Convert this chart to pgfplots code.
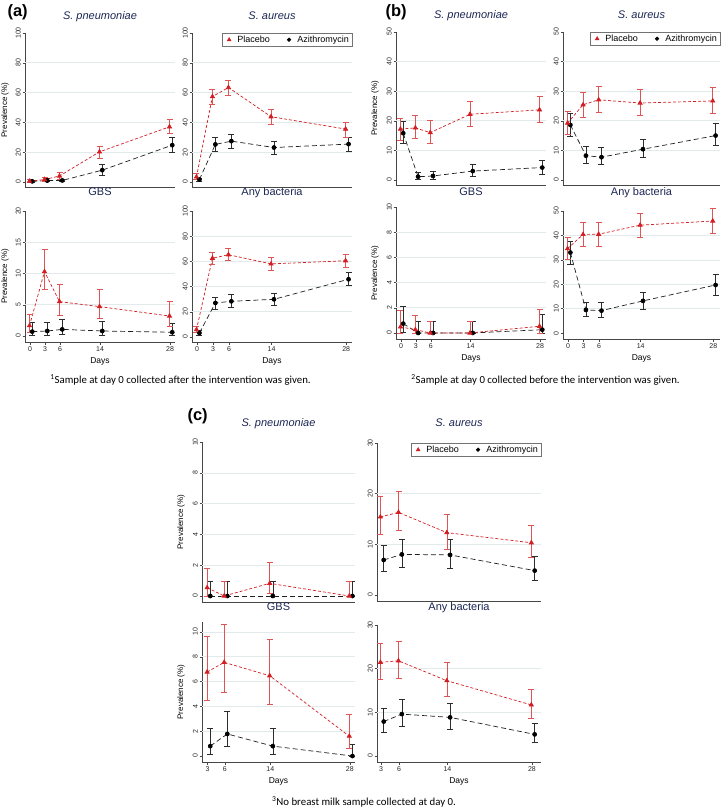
\documentclass[border=0pt]{standalone}
\usepackage{pgfplots}
\pgfplotsset{compat=1.18}
\usepackage{pgfplotstable}
\usepackage{fontspec}
\setmainfont{Liberation Sans}
\newfontfamily\notefont{Carlito}

\definecolor{pred}{RGB}{210,30,35}
\definecolor{predbar}{RGB}{222,85,85}
\definecolor{ablk}{RGB}{30,30,30}
\definecolor{ablkbar}{RGB}{45,45,45}
\definecolor{ttl}{RGB}{28,38,84}
\definecolor{axc}{RGB}{70,70,70}
\definecolor{gridc}{RGB}{226,234,236}

\newcommand\tickfont{\fontsize{7}{8}\selectfont}

% columns: day, placebo (est, lo, hi), azithromycin (est, lo, hi)
\pgfplotstableread{
d pv plo phi av alo ahi
0 0.5 0.0 1.5 0.4 0.0 1.1
3 1.6 0.4 2.8 0.9 0.2 2.3
6 4.0 1.8 6.7 1.0 0.3 2.1
14 20.2 15.7 24.0 7.9 4.5 11.7
28 37.0 32.6 42.0 24.7 19.8 29.7
}\aSP
\pgfplotstableread{
d pv plo phi av alo ahi
0 3.4 1.6 5.6 1.6 0.7 2.7
3 57.3 52.4 62.2 25.2 20.9 29.7
6 63.4 58.4 68.1 27.4 22.5 32.1
14 43.8 38.9 49.0 23.1 18.7 27.6
28 35.5 30.3 40.2 25.4 20.9 30.3
}\aSA
\pgfplotstableread{
d pv plo phi av alo ahi
0 1.65 0.6 3.46 0.7 0.16 2.2
3 10.3 7.5 13.8 0.8 0.16 2.2
6 5.5 3.35 8.2 1.06 0.27 2.66
14 4.7 2.8 7.4 0.8 0.16 2.3
28 3.2 1.6 5.5 0.6 0.1 2.0
}\aGB
\pgfplotstableread{
d pv plo phi av alo ahi
0 5.8 3.4 8.7 3.2 1.3 5.3
3 62.5 57.4 67.5 27.0 22.0 31.5
6 65.3 60.6 70.0 28.3 23.8 33.6
14 58.0 53.0 63.0 29.9 25.0 35.0
28 60.5 55.5 66.0 45.8 41.0 51.0
}\aAB
\pgfplotstableread{
d pv plo phi av alo ahi
0 17.2 13.5 20.9 15.8 12.4 19.8
3 17.6 14.1 21.9 1.1 0.2 2.5
6 16.0 12.4 20.0 1.35 0.3 2.8
14 22.2 18.0 26.5 3.0 1.1 5.3
28 23.7 19.4 28.2 4.2 2.0 6.5
}\bSP
\pgfplotstableread{
d pv plo phi av alo ahi
0 19.2 15.5 23.1 18.6 14.7 22.6
3 25.4 21.1 29.6 8.2 5.6 11.3
6 27.1 22.8 31.6 7.7 5.3 10.9
14 26.0 21.7 30.7 10.4 7.6 13.8
28 26.7 22.5 31.4 15.0 11.6 19.1
}\bSA
\pgfplotstableread{
d pv plo phi av alo ahi
0 0.48 0 1.77 0.74 0.08 2.1
3 0.26 0 1.4 0 0 0.95
6 0 0 0.95 0 0 0.95
14 0 0 0.95 0 0 0.95
28 0.53 0 1.85 0.26 0 1.5
}\bGB
\pgfplotstableread{
d pv plo phi av alo ahi
0 34.6 30.3 39.4 33.0 28.3 37.6
3 40.4 35.6 45.2 9.5 6.7 12.6
6 40.5 35.6 45.5 9.2 6.5 12.5
14 44.2 39.1 49.2 13.2 9.9 16.6
28 45.9 40.8 51.0 19.7 15.6 24.0
}\bAB
\pgfplotstableread{
d pv plo phi av alo ahi
3 0.54 0 1.8 0 0 0.95
6 0 0 0.95 0 0 0.95
14 0.82 0.17 2.2 0 0 0.95
28 0 0 0.95 0 0 0.95
}\cSP
\pgfplotstableread{
d pv plo phi av alo ahi
3 15.4 12.0 19.4 6.9 4.6 9.8
6 16.3 12.8 20.4 8.0 5.4 11.0
14 12.3 9.1 16.0 7.9 5.3 11.0
28 10.3 7.4 13.8 4.8 2.8 7.6
}\cSA
\pgfplotstableread{
d pv plo phi av alo ahi
3 6.77 4.5 9.65 0.8 0.16 2.24
6 7.55 5.15 10.6 1.78 0.75 3.6
14 6.47 4.2 9.4 0.8 0.16 2.24
28 1.6 0.6 3.4 0 0 0.95
}\cGB
\pgfplotstableread{
d pv plo phi av alo ahi
3 21.45 17.6 25.8 7.9 5.4 10.9
6 21.8 17.9 26.2 9.6 6.9 13.0
14 17.25 13.6 21.4 8.85 6.1 12.1
28 11.7 8.6 15.3 4.96 3.05 7.6
}\cAB

\pgfplotsset{
  panel/.style={
    scale only axis, anchor=south west, clip=false,
    axis x line*=bottom, axis y line*=left,
    axis line style={draw=axc, line width=0.5pt},
    tick align=outside, major tick length=2.5pt,
    tick style={draw=axc, line width=0.5pt},
    /pgf/number format/assume math mode=true,
    ticklabel style={font=\tickfont, text=black!85},
    yticklabel style={rotate=90, anchor=south, inner sep=1.5pt},
    xticklabel style={inner sep=1.5pt},
    major grid style={draw=gridc, line width=0.6pt},
    extra y tick labels={},
    extra y tick style={grid=major, major tick length=0pt},
    title style={font=\fontsize{11}{13}\selectfont, text=ttl, at={(0.5,1)}, anchor=base},
    xlabel style={font=\fontsize{8.5}{10}\selectfont, at={(axis description cs:0.5,0)}, anchor=north, inner sep=0pt, yshift=-15pt},
    ylabel style={font=\fontsize{8}{10}\selectfont, anchor=center},
  },
  toprow/.style={xtick=\empty},
  botrow/.style={xtick={0,3,6,14,28}, xlabel={Days}},
  botrowc/.style={xtick={3,6,14,28}, xlabel={Days}},
  legstyle/.style={
    legend style={at={(1,1)}, anchor=north east, draw=black!55, line width=0.4pt,
      font=\fontsize{9}{10}\selectfont, legend columns=2,
      inner xsep=1pt, inner ysep=0.5pt,
      /tikz/every even column/.append style={column sep=11pt}},
    legend cell align=left},
}

\newcommand\series[1]{%
  \addplot[forget plot, draw=ablk, line width=0.7pt, dash pattern=on 5pt off 3pt,
    mark=*, mark size=2pt, mark options={solid, fill=black, draw=black},
    error bars/.cd, y dir=both, y explicit,
    error bar style={draw=ablkbar, line width=0.6pt, solid},
    error mark options={rotate=90, draw=ablkbar, mark size=3pt, line width=0.6pt, solid}]
    table[x expr=\thisrow{d}+0.45, y=av,
      y error plus expr=\thisrow{ahi}-\thisrow{av},
      y error minus expr=\thisrow{av}-\thisrow{alo}]{#1};
  \addplot[forget plot, draw=pred, line width=0.7pt, dash pattern=on 3pt off 2pt,
    mark=triangle*, mark size=2.4pt, mark options={solid, fill=pred, draw=pred},
    error bars/.cd, y dir=both, y explicit,
    error bar style={draw=predbar, line width=0.6pt, solid},
    error mark options={rotate=90, draw=predbar, mark size=3pt, line width=0.6pt, solid}]
    table[x expr=\thisrow{d}-0.1, y=pv,
      y error plus expr=\thisrow{phi}-\thisrow{pv},
      y error minus expr=\thisrow{pv}-\thisrow{plo}]{#1};
}
\newcommand\legs{%
  \addlegendimage{legend image code/.code={\path (0pt,0pt) (12pt,0pt);
      \draw[only marks, mark=triangle*, mark size=2.2pt, pred] plot coordinates {(6pt,0pt)};}}
  \addlegendentry{Placebo}
  \addlegendimage{legend image code/.code={\path (0pt,0pt) (12pt,0pt);
      \draw[only marks, mark=*, mark size=1.9pt, black] plot coordinates {(6pt,0pt)};}}
  \addlegendentry{Azithromycin}
}

\begin{document}
\begin{tikzpicture}
\useasboundingbox (0,0) rectangle (723pt,-810pt);

% ---------------- (a) ----------------
\begin{axis}[panel, toprow, at={(25pt,-187pt)}, width=150pt, height=154pt,
  xmin=-1, xmax=29, ymin=-3.4, ymax=100,
  ytick={0,20,...,100}, extra y ticks={20,40,60,80},
  title={\textit{S. pneumoniae}}, title style={yshift=7.5pt},
  ylabel={Prevalence (\%)}, ylabel style={at={(axis description cs:-0.133,0.5)}}]
\series{\aSP}
\end{axis}
\begin{axis}[panel, toprow, legstyle, at={(192pt,-187pt)}, width=160pt, height=154pt,
  xmin=-0.94, xmax=29.1, ymin=-3.4, ymax=100,
  ytick={0,20,...,100}, extra y ticks={20,40,60,80},
  title={\textit{S. aureus}}, title style={yshift=7.5pt}]
\series{\aSA}
\legs
\end{axis}
\begin{axis}[panel, botrow, at={(25pt,-342pt)}, width=150pt, height=131pt,
  xmin=-1, xmax=29, ymin=-0.96, ymax=20,
  ytick={0,5,...,20}, extra y ticks={5,10,15},
  title={GBS}, title style={yshift=9.5pt},
  ylabel={Prevalence (\%)}, ylabel style={at={(axis description cs:-0.133,0.5)}}]
\series{\aGB}
\end{axis}
\begin{axis}[panel, botrow, at={(192pt,-342pt)}, width=160pt, height=131pt,
  xmin=-0.94, xmax=29.1, ymin=-4, ymax=100,
  ytick={0,20,...,100}, extra y ticks={20,40,60,80},
  title={Any bacteria}, title style={yshift=9.5pt}]
\series{\aAB}
\end{axis}

% ---------------- (b) ----------------
\begin{axis}[panel, toprow, at={(396pt,-185pt)}, width=150pt, height=153pt,
  xmin=-1, xmax=29.2, ymin=-1.7, ymax=50,
  ytick={0,10,...,50}, extra y ticks={10,20,30,40},
  title={\textit{S. pneumoniae}}, title style={yshift=7.5pt},
  ylabel={Prevalence (\%)}, ylabel style={at={(axis description cs:-0.14,0.5)}}]
\series{\bSP}
\end{axis}
\begin{axis}[panel, toprow, legstyle, at={(563pt,-185pt)}, width=157pt, height=153pt,
  xmin=-0.97, xmax=29.3, ymin=-1.7, ymax=50,
  ytick={0,10,...,50}, extra y ticks={10,20,30,40},
  title={\textit{S. aureus}}, title style={yshift=7.5pt}]
\series{\bSA}
\legs
\end{axis}
\begin{axis}[panel, botrow, at={(396pt,-339pt)}, width=150pt, height=132pt,
  xmin=-1, xmax=29.2, ymin=-0.48, ymax=10,
  ytick={0,2,...,10}, extra y ticks={2,4,6,8},
  title={GBS}, title style={yshift=5.5pt},
  ylabel={Prevalence (\%)}, ylabel style={at={(axis description cs:-0.14,0.5)}}]
\series{\bGB}
\end{axis}
\begin{axis}[panel, botrow, at={(563pt,-339pt)}, width=157pt, height=128pt,
  xmin=-0.97, xmax=29.3, ymin=-2.4, ymax=50,
  ytick={0,10,...,50}, extra y ticks={10,20,30,40},
  title={Any bacteria}, title style={yshift=9.5pt}]
\series{\bAB}
\end{axis}

% ---------------- (c) ----------------
\begin{axis}[panel, toprow, at={(202pt,-602pt)}, width=153pt, height=160pt,
  xmin=2, xmax=28.9, ymin=-0.39, ymax=10,
  ytick={0,2,...,10}, extra y ticks={2,4,6,8},
  title={\textit{S. pneumoniae}}, title style={yshift=9.5pt},
  ylabel={Prevalence (\%)}, ylabel style={at={(axis description cs:-0.137,0.5)}}]
\series{\cSP}
\end{axis}
\begin{axis}[panel, toprow, legstyle, at={(377pt,-601pt)}, width=164pt, height=158pt,
  xmin=2.34, xmax=29.5, ymin=-1.2, ymax=30,
  ytick={0,10,20,30}, extra y ticks={10,20},
  title={\textit{S. aureus}}, title style={yshift=10.5pt}]
\series{\cSA}
\legs
\end{axis}
\begin{axis}[panel, botrowc, at={(202pt,-762pt)}, width=153pt, height=140pt,
  xmin=2, xmax=28.9, ymin=-0.48, ymax=10.8,
  ytick={0,2,...,10}, extra y ticks={2,4,6,8,10},
  title={GBS}, title style={yshift=5.5pt},
  ylabel={Prevalence (\%)}, ylabel style={at={(axis description cs:-0.137,0.5)}}]
\series{\cGB}
\end{axis}
\begin{axis}[panel, botrowc, at={(377pt,-762pt)}, width=164pt, height=137pt,
  xmin=2.34, xmax=29.5, ymin=-1.37, ymax=30,
  ytick={0,10,20,30}, extra y ticks={10,20},
  title={Any bacteria}, title style={yshift=8.5pt}]
\series{\cAB}
\end{axis}

% panel letters and footnotes
\node[font=\fontsize{16.5}{18}\selectfont\bfseries, anchor=west] at (4pt,-12pt) {(a)};
\node[font=\fontsize{16.5}{18}\selectfont\bfseries, anchor=west] at (382pt,-12pt) {(b)};
\node[font=\fontsize{16.5}{18}\selectfont\bfseries, anchor=west] at (184pt,-416pt) {(c)};
\node[font=\notefont\fontsize{10.8}{12}\selectfont] at (180.5pt,-380pt)
  {\textsuperscript{1}Sample at day 0 collected after the intervention was given.};
\node[font=\notefont\fontsize{10.8}{12}\selectfont] at (545.5pt,-380pt)
  {\textsuperscript{2}Sample at day 0 collected before the intervention was given.};
\node[font=\notefont\fontsize{10.8}{12}\selectfont] at (364pt,-802pt)
  {\textsuperscript{3}No breast milk sample collected at day 0.};
\end{tikzpicture}
\end{document}
